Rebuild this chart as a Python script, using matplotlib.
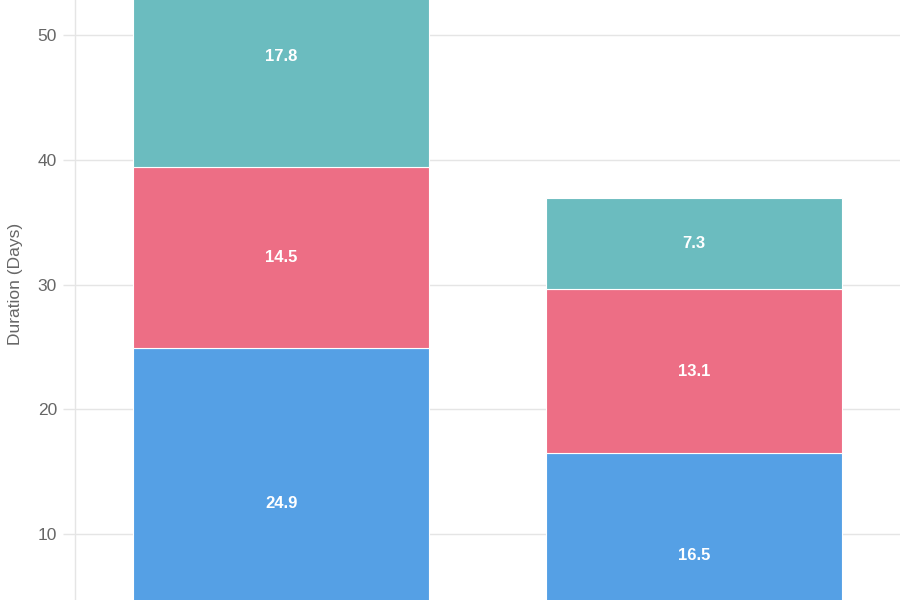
import matplotlib
matplotlib.use("Agg")
from matplotlib import pyplot as plt
import numpy as np

plt.rcParams["font.family"] = ["Liberation Sans", "DejaVu Sans"]

categories = ["Group A", "Group B"]
series_names = ["Stage 1", "Stage 2", "Stage 3"]
stage1 = [24.9, 16.5]
stage2 = [14.5, 13.1]
stage3 = [17.8, 7.3]
colors = ["#55a0e5", "#ed6e85", "#6bbcbf"]

fig = plt.figure(figsize=(9, 6), dpi=100)
ax = fig.add_axes([75 / 900, 0, 825 / 900, 1])

x = np.arange(len(categories))
bottom = np.zeros(len(categories))
for name, vals, col in zip(series_names, [stage1, stage2, stage3], colors):
    vals = np.array(vals)
    ax.bar(x, vals, 0.718, bottom=bottom, color=col, edgecolor="white",
           linewidth=0.8, label=name, zorder=3)
    for xi, b, v in zip(x, bottom, vals):
        ax.text(xi, b + v / 2, f"{v:.1f}", ha="center", va="center",
                color="white", fontsize=12, fontweight="bold", zorder=4)
    bottom += vals

ax.set_yticks(np.arange(10, 60, 10))
ax.set_xticks([])
ax.set_xlim(-0.5, 1.5)
ax.set_ylim(4.709, 52.806)
ax.grid(axis="y", color="#e5e5e5", linewidth=1, zorder=0)
ax.tick_params(axis="y", length=9, width=1, color="#e5e5e5", pad=4,
               labelsize=12.5, labelcolor="#666666")
for side in ["top", "right", "bottom"]:
    ax.spines[side].set_visible(False)
ax.spines["left"].set_color("#e5e5e5")
ax.spines["left"].set_linewidth(1)

fig.text(16 / 900, 1 - 284 / 600, "Duration (Days)", rotation=90,
         ha="center", va="center", fontsize=12.5, color="#666666")

fig.savefig("out.png", dpi=100)
